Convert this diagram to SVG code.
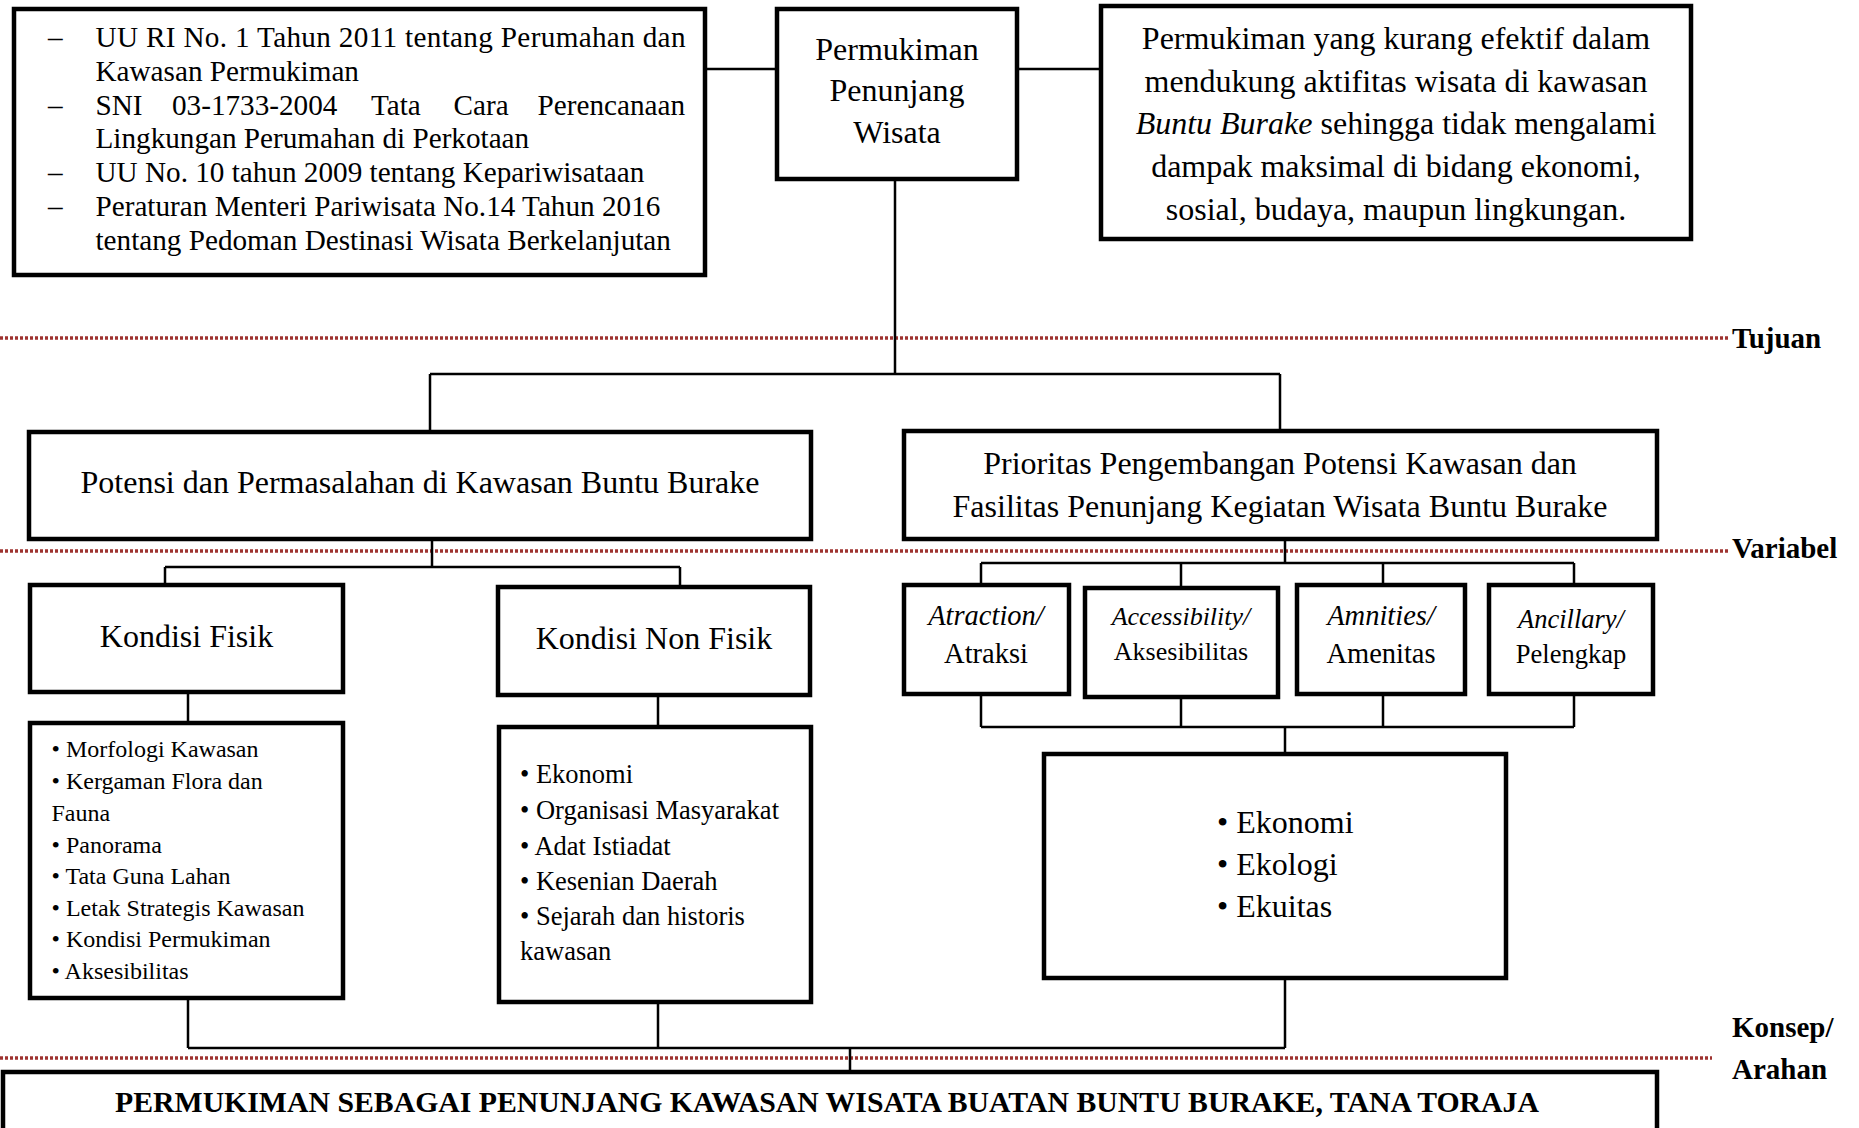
<svg xmlns="http://www.w3.org/2000/svg" width="1859" height="1128" viewBox="0 0 1859 1128">
<style>
.box{fill:#fff;stroke:#000;stroke-width:4.5}
.con{fill:none;stroke:#000;stroke-width:2.5}
.dot{fill:none;stroke:#9E3330;stroke-width:3.5;stroke-dasharray:3 2}
text{font-family:"Liberation Serif","Times New Roman",serif;fill:#000}
.c{text-anchor:middle}
.lbl{font-weight:bold;font-size:29px}
.it{font-style:italic}
</style>
<rect width="1859" height="1128" fill="#fff"/>
<g id="guides">
<line class="dot" x1="0" y1="338" x2="1729" y2="338"/>
<line class="dot" x1="0" y1="551" x2="1729" y2="551"/>
<line class="dot" x1="0" y1="1058" x2="1712" y2="1058"/>
<text class="lbl" x="1732" y="348">Tujuan</text>
<text class="lbl" x="1732" y="558">Variabel</text>
<text class="lbl" x="1732" y="1037">Konsep/</text>
<text class="lbl" x="1732" y="1079">Arahan</text>
</g>
<g id="connectors">
<path class="con" d="M705 69H777M1017 69H1101M895 179V374M430 374H1280M430 374V432M1280 374V431"/>
<path class="con" d="M432 539V567M165 567H680M165 567V585M680 567V587M188 692V723M658 695V727"/>
<path class="con" d="M188 998V1048M658 1002V1048M1285 978V1048M188 1048H1285M850 1048V1072"/>
<path class="con" d="M1285 539V563M981 563H1574M981 563V585M1181 563V588M1383 563V585M1574 563V585"/>
<path class="con" d="M981 694V727M1181 697V727M1383 694V727M1574 694V727M981 727H1574M1285 727V754"/>
</g>
<g id="node-regulasi">
<rect class="box" x="14" y="9" width="691" height="266"/>
<g font-size="29.2">
<text x="48" y="47">–</text><text x="95.5" y="47" textLength="590" lengthAdjust="spacing">UU RI No. 1 Tahun 2011 tentang Perumahan dan</text>
<text x="95.5" y="81">Kawasan Permukiman</text>
<text x="48" y="114.5">–</text><text x="95.5" y="114.5">SNI</text><text x="172" y="114.5">03-1733-2004</text><text x="371" y="114.5">Tata</text><text x="453.6" y="114.5">Cara</text><text x="685" y="114.5" text-anchor="end">Perencanaan</text>
<text x="95.5" y="148.3">Lingkungan Perumahan di Perkotaan</text>
<text x="48" y="182">–</text><text x="95.5" y="182">UU No. 10 tahun 2009 tentang Kepariwisataan</text>
<text x="48" y="216">–</text><text x="95.5" y="216">Peraturan Menteri Pariwisata No.14 Tahun 2016</text>
<text x="95.5" y="249.5">tentang Pedoman Destinasi Wisata Berkelanjutan</text>
</g>
</g>
<g id="node-permukiman">
<rect class="box" x="777" y="9" width="240" height="170"/>
<g font-size="32" class="c">
<text x="897" y="60">Permukiman</text>
<text x="897" y="101">Penunjang</text>
<text x="897" y="143">Wisata</text>
</g>
</g>
<g id="node-masalah">
<rect class="box" x="1101" y="6" width="590" height="233"/>
<g font-size="32" class="c">
<text x="1396" y="49">Permukiman yang kurang efektif dalam</text>
<text x="1396" y="91.5">mendukung aktifitas wisata di kawasan</text>
<text x="1396" y="134"><tspan class="it">Buntu Burake</tspan> sehingga tidak mengalami</text>
<text x="1396" y="177">dampak maksimal di bidang ekonomi,</text>
<text x="1396" y="219.5">sosial, budaya, maupun lingkungan.</text>
</g>
</g>
<g id="node-potensi">
<rect class="box" x="29" y="432" width="782" height="107"/>
<text class="c" font-size="32" x="420" y="493">Potensi dan Permasalahan di Kawasan Buntu Burake</text>
</g>
<g id="node-prioritas">
<rect class="box" x="904" y="431" width="753" height="108"/>
<g font-size="32" class="c">
<text x="1280" y="474">Prioritas Pengembangan Potensi Kawasan dan</text>
<text x="1280" y="517">Fasilitas Penunjang Kegiatan Wisata Buntu Burake</text>
</g>
</g>
<g id="node-fisik">
<rect class="box" x="30" y="585" width="313" height="107"/>
<text class="c" font-size="32" x="186.5" y="647">Kondisi Fisik</text>
</g>
<g id="node-nonfisik">
<rect class="box" x="498" y="587" width="312" height="108"/>
<text class="c" font-size="32" x="654" y="649">Kondisi Non Fisik</text>
</g>
<g id="node-fisik-list">
<rect class="box" x="30" y="723" width="313" height="275"/>
<g font-size="24">
<text x="51.5" y="757">• Morfologi Kawasan</text>
<text x="51.5" y="789">• Kergaman Flora dan</text>
<text x="51.5" y="821">Fauna</text>
<text x="51.5" y="853">• Panorama</text>
<text x="51.5" y="884">• Tata Guna Lahan</text>
<text x="51.5" y="916">• Letak Strategis Kawasan</text>
<text x="51.5" y="947">• Kondisi Permukiman</text>
<text x="51.5" y="979">• Aksesibilitas</text>
</g>
</g>
<g id="node-nonfisik-list">
<rect class="box" x="499" y="727" width="312" height="275"/>
<g font-size="26.5">
<text x="520" y="783">• Ekonomi</text>
<text x="520" y="819">• Organisasi Masyarakat</text>
<text x="520" y="855">• Adat Istiadat</text>
<text x="520" y="890">• Kesenian Daerah</text>
<text x="520" y="925">• Sejarah dan historis</text>
<text x="520" y="960">kawasan</text>
</g>
</g>
<g id="node-atraksi">
<rect class="box" x="904" y="585" width="165" height="109"/>
<g font-size="28.5" class="c">
<text x="986" y="625" class="it">Atraction/</text>
<text x="986" y="663">Atraksi</text>
</g>
</g>
<g id="node-aksesibilitas">
<rect class="box" x="1085" y="588" width="193" height="109"/>
<g font-size="26" class="c">
<text x="1181" y="625" class="it">Accessibility/</text>
<text x="1181" y="660">Aksesibilitas</text>
</g>
</g>
<g id="node-amenitas">
<rect class="box" x="1297" y="585" width="168" height="109"/>
<g font-size="28.5" class="c">
<text x="1381" y="625" class="it">Amnities/</text>
<text x="1381" y="663">Amenitas</text>
</g>
</g>
<g id="node-pelengkap">
<rect class="box" x="1489" y="585" width="164" height="109"/>
<g font-size="26.5" class="c">
<text x="1571" y="628" class="it">Ancillary/</text>
<text x="1571" y="663">Pelengkap</text>
</g>
</g>
<g id="node-3e">
<rect class="box" x="1044" y="754" width="462" height="224"/>
<g font-size="32">
<text x="1217" y="833">• Ekonomi</text>
<text x="1217" y="875">• Ekologi</text>
<text x="1217" y="917">• Ekuitas</text>
</g>
</g>
<g id="node-konsep">
<rect class="box" x="3" y="1072" width="1654" height="80"/>
<text font-size="29.3" font-weight="bold" x="115" y="1112" textLength="1424" lengthAdjust="spacingAndGlyphs">PERMUKIMAN SEBAGAI PENUNJANG KAWASAN WISATA BUATAN BUNTU BURAKE, TANA TORAJA</text>
</g>
</svg>
